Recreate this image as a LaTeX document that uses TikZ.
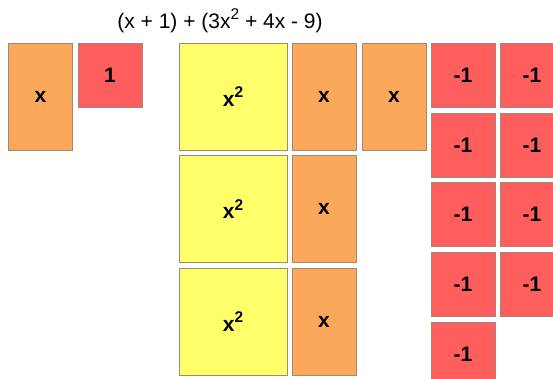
\documentclass[tikz,border=0pt]{standalone}
\usepackage{fontspec}
\setmainfont{Liberation Sans}
\definecolor{tileorange}{HTML}{FBA85B}
\definecolor{tilered}{HTML}{FF5E5E}
\definecolor{tileyellow}{HTML}{FFFF6C}
\definecolor{tileedge}{HTML}{9A8A78}
\newcommand{\sqsup}{\raisebox{0.42em}{\fontsize{15.5}{16}\selectfont 2}}
\tikzset{
  tile/.style={draw=tileedge, line width=0.8pt, inner sep=0pt,
    font=\fontsize{21}{24}\selectfont\bfseries},
  xtile/.style={tile, fill=tileorange, minimum width=64pt, minimum height=107pt},
  sqtile/.style={tile, fill=tileyellow, minimum width=108pt, minimum height=107pt},
  onetile/.style={tile, fill=tilered, minimum width=64pt, minimum height=64pt},
}
\begin{document}
\begin{tikzpicture}[x=1pt,y=-1pt]
\useasboundingbox (0,0) rectangle (553,379);
\clip (0,0) rectangle (553,379);
\node (title) at (220,21) {\fontsize{21}{24}\selectfont (x + 1) + (3x\sqsup{} + 4x - 9)};
% first polynomial
\node[xtile] (px) at (40.5,96.5) {x};
\node[onetile] (pone) at (110,75) {1};
% second polynomial
\node[sqtile] (sqa) at (233,96.5) {x\sqsup};
\node[sqtile] (sqb) at (233,209) {x\sqsup};
\node[sqtile] (sqc) at (233,321.5) {x\sqsup};
\node[xtile] (xa) at (324,96.5) {x};
\node[xtile] (xb) at (324,209) {x};
\node[xtile] (xc) at (324,321.5) {x};
\node[xtile] (xd) at (394,96.5) {x};
\node[onetile] (na) at (463,75) {-1};
\node[onetile] (nb) at (463,145) {-1};
\node[onetile] (nc) at (463,214) {-1};
\node[onetile] (nd) at (463,284) {-1};
\node[onetile] (ne) at (463,354) {-1};
\node[onetile] (nf) at (532,75) {-1};
\node[onetile] (ng) at (532,145) {-1};
\node[onetile] (nh) at (532,214) {-1};
\node[onetile] (ni) at (532,284) {-1};
\end{tikzpicture}
\end{document}
